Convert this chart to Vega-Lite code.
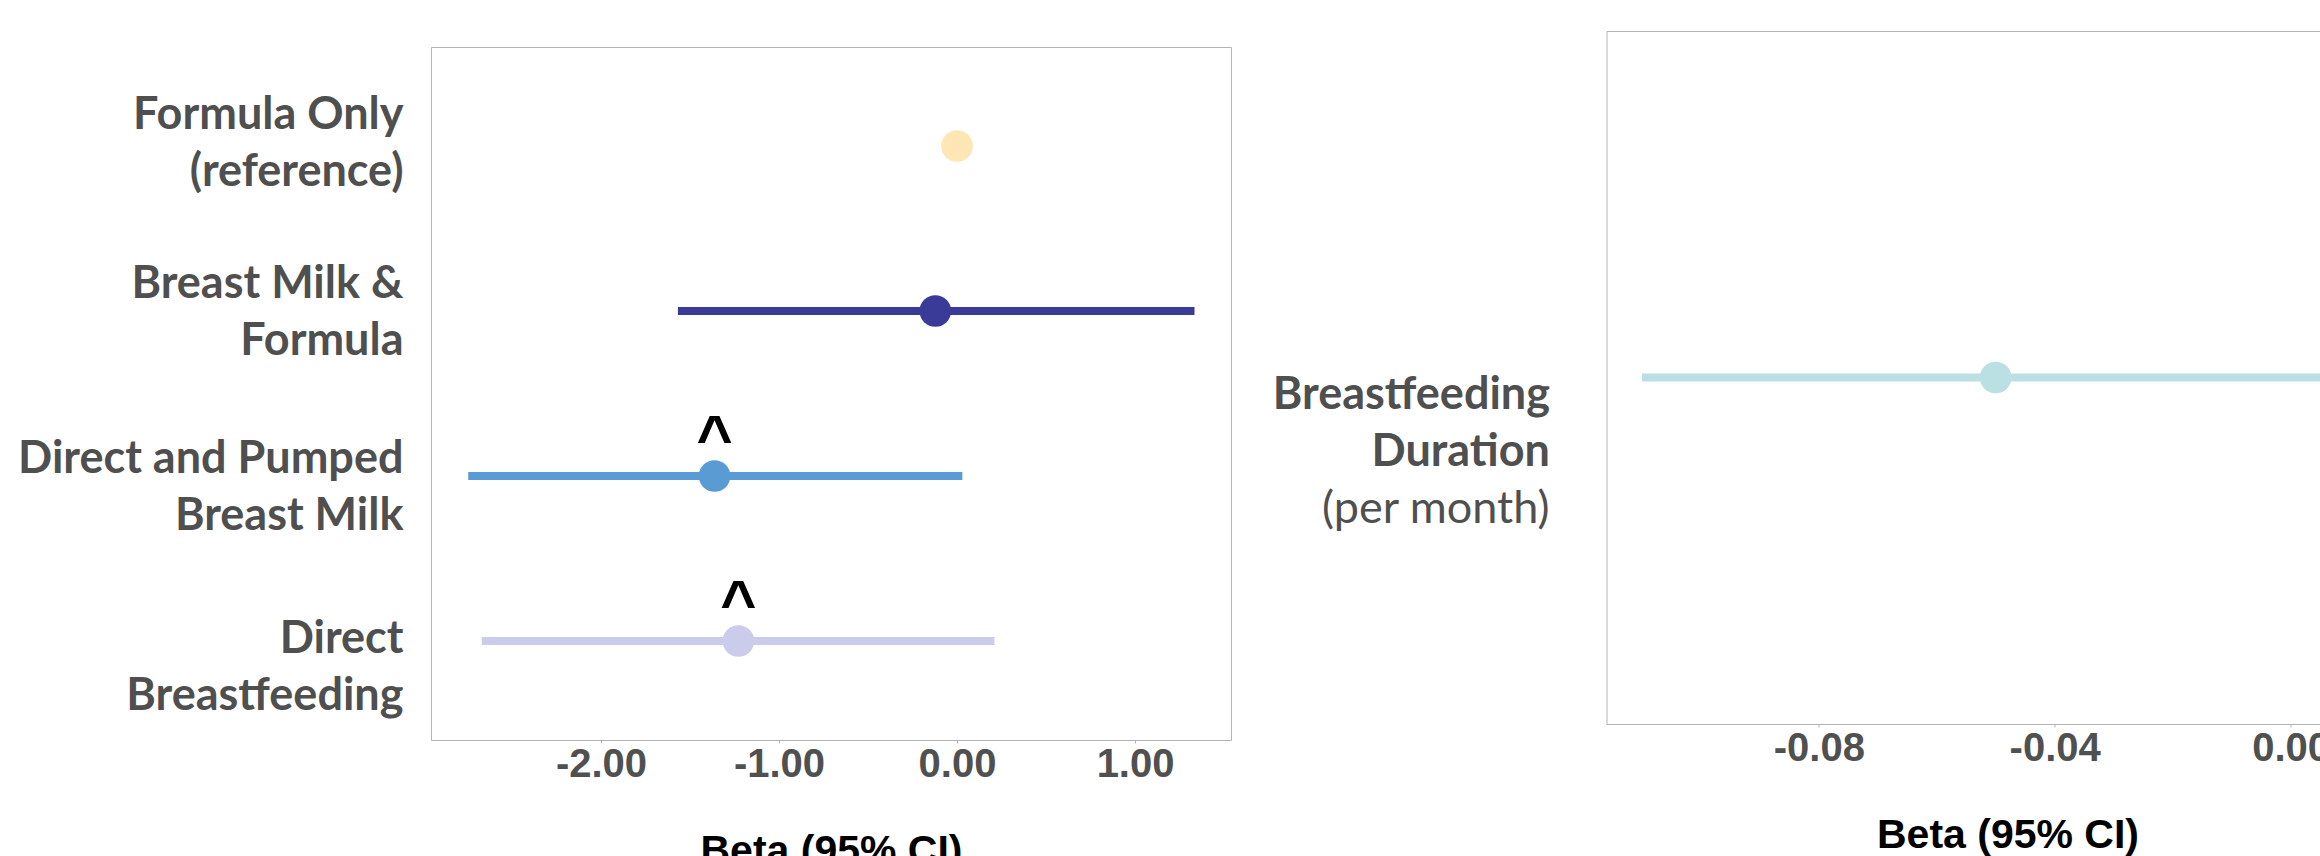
{
  "$schema": "https://vega.github.io/schema/vega-lite/v6.json",
  "padding": {"left": 0, "top": 30, "right": 0, "bottom": 0},
  "spacing": 33.5,
  "background": "white",
  "config": {
    "view": {"stroke": "#B4B4B4", "strokeWidth": 1},
    "axis": {"grid": false}
  },
  "hconcat": [
    {
      "spacing": 14,
      "vconcat": [
        {
          "width": 800,
          "height": 1,
          "view": {"stroke": null},
          "data": {"values": [{}]},
          "mark": {"type": "rule", "opacity": 0},
          "encoding": {}
        },
        {
          "width": 800,
          "height": 693,
          "data": {
            "values": [
              {"group": "Formula Only|(reference)", "beta": 0, "lo": null, "hi": null, "sig": ""},
              {"group": "Breast Milk &|Formula", "beta": -0.122, "lo": -1.568, "hi": 1.334, "sig": ""},
              {"group": "Direct and Pumped|Breast Milk", "beta": -1.362, "lo": -2.746, "hi": 0.03, "sig": "^"},
              {"group": "Direct|Breastfeeding", "beta": -1.228, "lo": -2.67, "hi": 0.21, "sig": "^"}
            ]
          },
          "encoding": {
            "y": {
              "field": "group",
              "type": "nominal",
              "sort": ["Formula Only|(reference)", "Breast Milk &|Formula", "Direct and Pumped|Breast Milk", "Direct|Breastfeeding"],
              "scale": {"type": "point", "padding": 0.6},
              "axis": {
                "title": null,
                "domain": false,
                "ticks": false,
                "labelExpr": "split(datum.label, '|')",
                "labelFont": "Lato",
                "labelFontWeight": "bold",
                "labelFontSize": 45,
                "labelColor": "#4F4F4F",
                "labelLineHeight": 57,
                "labelPadding": 28,
                "labelLimit": 0,
                "labelOffset": {
                  "condition": [
                    {"test": "datum.value == 'Formula Only|(reference)'", "value": -32},
                    {"test": "datum.value == 'Breast Milk &|Formula'", "value": -28},
                    {"test": "datum.value == 'Direct and Pumped|Breast Milk'", "value": -18},
                    {"test": "datum.value == 'Direct|Breastfeeding'", "value": -3}
                  ],
                  "value": 0
                },
                "minExtent": 430,
                "maxExtent": 430
              }
            }
          },
          "layer": [
            {
              "mark": {"type": "rule", "strokeWidth": 8},
              "encoding": {
                "x": {
                  "field": "lo",
                  "type": "quantitative",
                  "scale": {"domain": [-2.955, 1.539], "nice": false, "zero": false},
                  "axis": {
                    "values": [-2, -1, 0, 1],
                    "format": ".2f",
                    "labelExpr": "replace(datum.label, '\u2212', '-')",
                    "domain": false,
                    "ticks": true,
                    "tickSize": 3,
                    "tickColor": "#B4B4B4",
                    "labelFont": "Liberation Sans",
                    "labelFontWeight": "bold",
                    "labelFontSize": 40,
                    "labelColor": "#505050",
                    "labelPadding": 1,
                    "title": "Beta (95% CI)",
                    "titleFont": "Liberation Sans",
                    "titleFontWeight": "bold",
                    "titleFontSize": 41,
                    "titleColor": "#000000",
                    "titlePadding": 47
                  }
                },
                "x2": {"field": "hi"},
                "color": {
                  "field": "group",
                  "type": "nominal",
                  "scale": {
                    "domain": ["Formula Only|(reference)", "Breast Milk &|Formula", "Direct and Pumped|Breast Milk", "Direct|Breastfeeding"],
                    "range": ["#FFE6B5", "#3A3A98", "#5B9BD5", "#CBCBEC"]
                  },
                  "legend": null
                }
              }
            },
            {
              "mark": {"type": "circle", "size": 1000, "opacity": 1},
              "encoding": {
                "x": {"field": "beta", "type": "quantitative"},
                "color": {"field": "group", "type": "nominal", "legend": null}
              }
            },
            {
              "mark": {"type": "text", "font": "Liberation Sans", "fontWeight": "bold", "fontSize": 62, "color": "#000000", "baseline": "alphabetic", "align": "center", "dy": -18},
              "encoding": {
                "x": {"field": "beta", "type": "quantitative"},
                "text": {"field": "sig"}
              }
            },
            {
              "mark": {"type": "rule", "color": "#3C3C3C", "strokeWidth": 1},
              "encoding": {"x": {"datum": 0}}
            }
          ]
        }
      ]
    },
    {
      "width": 802,
      "height": 693,
      "data": {
        "values": [
          {"group": "Breastfeeding|Duration", "beta": -0.05, "lo": -0.11, "hi": 0.01, "note": "(per month)"}
        ]
      },
      "encoding": {
        "y": {
          "field": "group",
          "type": "nominal",
          "scale": {"type": "point", "padding": 0.6},
          "axis": {
            "title": null,
            "domain": false,
            "ticks": false,
            "labelExpr": "split(datum.label, '|')",
            "labelFont": "Lato",
            "labelFontWeight": "bold",
            "labelFontSize": 45,
            "labelColor": "#4F4F4F",
            "labelLineHeight": 57,
            "labelPadding": 57,
            "labelLimit": 0,
            "labelOffset": 17,
            "minExtent": 340,
            "maxExtent": 340
          }
        }
      },
      "layer": [
        {
          "mark": {"type": "rule", "strokeWidth": 8, "color": "#BBE0E3"},
          "encoding": {
            "x": {
              "field": "lo",
              "type": "quantitative",
              "scale": {"domain": [-0.116, 0.02], "nice": false, "zero": false},
              "axis": {
                "values": [-0.08, -0.04, 0],
                "format": ".2f",
                "labelExpr": "replace(datum.label, '\u2212', '-')",
                "domain": false,
                "ticks": true,
                "tickSize": 3,
                "tickColor": "#B4B4B4",
                "labelFont": "Liberation Sans",
                "labelFontWeight": "bold",
                "labelFontSize": 40,
                "labelColor": "#505050",
                "labelPadding": 1,
                "title": "Beta (95% CI)",
                "titleFont": "Liberation Sans",
                "titleFontWeight": "bold",
                "titleFontSize": 41,
                "titleColor": "#000000",
                "titlePadding": 47
              }
            },
            "x2": {"field": "hi"}
          }
        },
        {
          "mark": {"type": "circle", "size": 1000, "opacity": 1, "color": "#BBE0E3"},
          "encoding": {
            "x": {"field": "beta", "type": "quantitative"}
          }
        },
        {
          "mark": {"type": "text", "font": "Lato", "fontSize": 45, "color": "#4F4F4F", "align": "right", "baseline": "middle", "dx": -57, "dy": 131},
          "encoding": {
            "x": {"datum": -0.116},
            "text": {"field": "note"}
          }
        },
        {
          "mark": {"type": "rule", "color": "#3C3C3C", "strokeWidth": 1},
          "encoding": {"x": {"datum": 0}}
        }
      ]
    }
  ]
}
